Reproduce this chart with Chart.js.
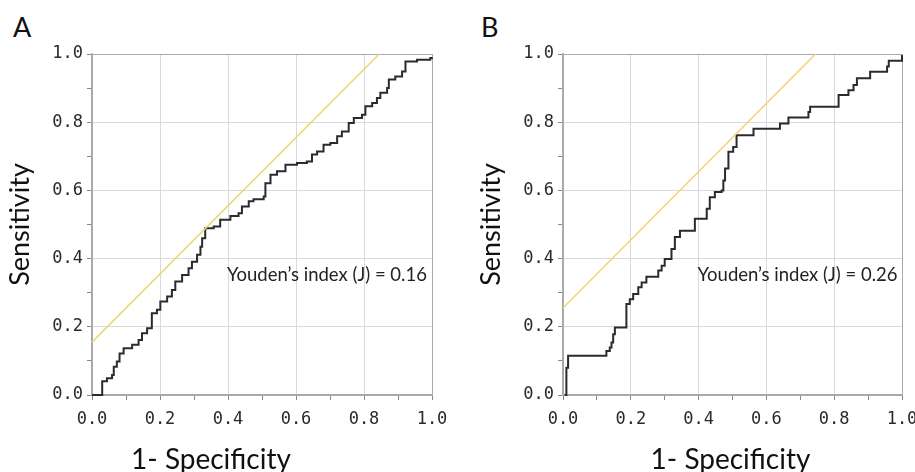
<!DOCTYPE html>
<html>
<head>
<meta charset="utf-8">
<script src="https://cdn.jsdelivr.net/npm/chart.js@4.4.1/dist/chart.umd.min.js"></script>
<style>
  html, body { margin: 0; padding: 0; background: #fff; overflow: hidden; width: 915px; height: 472px; }
  .panel { position: absolute; top: 0; height: 472px; }
  .letter { position: absolute; top: 10px; font: 27px Lato, sans-serif; color: #111; }
</style>
</head>
<body>
<div class="letter" style="left:13px">A</div>
<div class="letter" style="left:481px">B</div>
<div class="panel" style="left:0;width:470px"><canvas id="chartA"></canvas></div>
<div class="panel" style="left:455px;width:475px"><canvas id="chartB"></canvas></div>
<script>
// ROC curve A (1-specificity, sensitivity)
var rocAx = [0, 0.03, 0.044, 0.059, 0.064, 0.073, 0.081, 0.093, 0.118, 0.137, 0.147, 0.162, 0.176, 0.176, 0.191, 0.201, 0.221, 0.235, 0.245, 0.265, 0.284, 0.294, 0.309, 0.319, 0.324, 0.333, 0.358, 0.377, 0.407, 0.431, 0.441, 0.461, 0.475, 0.505, 0.51, 0.525, 0.544, 0.569, 0.603, 0.632, 0.647, 0.662, 0.681, 0.701, 0.721, 0.735, 0.755, 0.77, 0.794, 0.804, 0.824, 0.838, 0.848, 0.868, 0.873, 0.892, 0.912, 0.922, 0.956, 0.995, 1.0];
var rocAy = [0, 0.04, 0.049, 0.059, 0.083, 0.098, 0.122, 0.137, 0.147, 0.161, 0.181, 0.196, 0.22, 0.24, 0.25, 0.274, 0.289, 0.308, 0.333, 0.352, 0.372, 0.391, 0.411, 0.435, 0.46, 0.489, 0.494, 0.514, 0.525, 0.533, 0.553, 0.568, 0.574, 0.582, 0.621, 0.646, 0.656, 0.675, 0.68, 0.685, 0.705, 0.714, 0.734, 0.739, 0.759, 0.773, 0.798, 0.812, 0.822, 0.847, 0.856, 0.871, 0.886, 0.9, 0.925, 0.934, 0.949, 0.978, 0.983, 0.988, 0.99];

// ROC curve B
var rocBx = [0.005, 0.01, 0.015, 0.118, 0.128, 0.138, 0.143, 0.148, 0.153, 0.177, 0.187, 0.197, 0.207, 0.222, 0.232, 0.246, 0.271, 0.281, 0.291, 0.3, 0.31, 0.32, 0.33, 0.345, 0.384, 0.389, 0.414, 0.424, 0.433, 0.448, 0.468, 0.473, 0.478, 0.488, 0.502, 0.512, 0.557, 0.562, 0.631, 0.64, 0.665, 0.704, 0.724, 0.729, 0.808, 0.813, 0.837, 0.842, 0.857, 0.867, 0.901, 0.906, 0.95, 0.956, 0.961, 0.995, 1.0];
var rocBy = [0, 0.08, 0.115, 0.115, 0.129, 0.139, 0.154, 0.178, 0.198, 0.198, 0.267, 0.281, 0.296, 0.316, 0.33, 0.347, 0.347, 0.365, 0.379, 0.399, 0.399, 0.428, 0.463, 0.482, 0.482, 0.517, 0.517, 0.546, 0.58, 0.595, 0.6, 0.629, 0.664, 0.713, 0.727, 0.762, 0.762, 0.781, 0.781, 0.796, 0.814, 0.814, 0.83, 0.845, 0.845, 0.88, 0.88, 0.894, 0.909, 0.929, 0.929, 0.948, 0.948, 0.963, 0.98, 0.98, 0.997];

// Youden lines (y = x + J)
var youdenAx = [0, 0.845];
var youdenAy = [0.155, 1.0];
var youdenBx = [0, 0.745];
var youdenBy = [0.255, 1.0];

var youdenLabels = ['Youden\u2019s index (J) = 0.16', 'Youden\u2019s index (J) = 0.26'];
var axisTitleX = '1- Specificity';
var axisTitleY = 'Sensitivity';

function toPoints(xs, ys) {
    var pts = [];
    for (var i = 0; i < xs.length; i++) {
        pts.push({x: xs[i], y: ys[i]});
    }
    return pts;
}

function isMajor(v) {
    return Math.round(v * 10) % 2 === 0;
}

function gridColor(ctx) {
    if (!ctx.tick) return 'rgba(0,0,0,0)';
    var v = ctx.tick.value;
    if (Math.abs(v - 1) < 1e-6 || Math.abs(v) < 1e-6) return '#a9a9a9';
    return isMajor(v) ? '#d9d9d9' : 'rgba(0,0,0,0)';
}

var textPlugin = {
    id: 'panelText',
    afterDraw: function(chart) {
        var o = chart.options.plugins.panelText;
        var ctx = chart.ctx;
        var xs = chart.scales.x, ys = chart.scales.y;
        ctx.save();
        ctx.fillStyle = '#222';
        ctx.font = '18.5px Lato, sans-serif';
        ctx.textAlign = 'left';
        ctx.textBaseline = 'middle';
        ctx.fillText(o.note, xs.getPixelForValue(0.397), ys.getPixelForValue(0.352));
        ctx.font = '28px Lato, sans-serif';
        ctx.textAlign = 'center';
        ctx.fillStyle = '#111';
        var ca = chart.chartArea;
        ctx.fillText(axisTitleX, (ca.left + ca.right) / 2 + o.titleShift, 460);
        ctx.restore();
    }
};

function makeChart(id, rocX, rocY, youX, youY, note, padLeft, padRight, titleShift) {
    var ctx = document.getElementById(id);
    return new Chart(ctx, {
        type: 'scatter',
        data: {
            datasets: [
                {
                    data: toPoints(youX, youY),
                    showLine: true,
                    borderColor: '#efd67a',
                    borderWidth: 1.6,
                    pointRadius: 0,
                    fill: false
                },
                {
                    data: toPoints(rocX, rocY),
                    showLine: true,
                    stepped: true,
                    borderColor: '#2b2b2b',
                    borderWidth: 2,
                    pointRadius: 0,
                    fill: false,
                    clip: false
                }
            ]
        },
        options: {
            responsive: true,
            maintainAspectRatio: false,
            animation: false,
            layout: { padding: { left: padLeft, right: padRight, top: 54, bottom: 0 } },
            plugins: {
                legend: { display: false },
                tooltip: { enabled: false },
                panelText: { note: note, titleShift: titleShift }
            },
            scales: {
                x: {
                    type: 'linear',
                    min: 0,
                    max: 1,
                    afterFit: function(scale) { scale.height = 77; },
                    ticks: {
                        stepSize: 0.1,
                        maxRotation: 0,
                        autoSkip: false,
                        padding: 9,
                        color: '#2a2a2a',
                        font: { family: 'DejaVu Sans Mono', size: 17 },
                        callback: function(v) { return isMajor(v) ? v.toFixed(1) : ''; }
                    },
                    grid: {
                        color: gridColor,
                        tickColor: '#888',
                        tickLength: 5,
                        drawTicks: true
                    },
                    border: { color: '#a9a9a9', width: 1.5 }
                },
                y: {
                    type: 'linear',
                    min: 0,
                    max: 1,
                    afterFit: function(scale) { scale.width = 92; },
                    ticks: {
                        stepSize: 0.1,
                        autoSkip: false,
                        padding: 4,
                        color: '#2a2a2a',
                        font: { family: 'DejaVu Sans Mono', size: 17 },
                        callback: function(v) { return isMajor(v) ? v.toFixed(1) : ''; }
                    },
                    grid: {
                        color: gridColor,
                        tickColor: '#888',
                        tickLength: 5,
                        drawTicks: true
                    },
                    border: { color: '#a9a9a9', width: 1.5 },
                    title: {
                        display: true,
                        text: axisTitleY,
                        color: '#111',
                        font: { family: 'Lato', size: 27, lineHeight: 1 },
                        padding: { top: 7, bottom: 0 }
                    }
                }
            }
        },
        plugins: [textPlugin]
    });
}

makeChart('chartA', rocAx, rocAy, youdenAx, youdenAy, youdenLabels[0], 0, 38, -51);
makeChart('chartB', rocBx, rocBy, youdenBx, youdenBy, youdenLabels[1], 16, 28, -2);
</script>
</body>
</html>
